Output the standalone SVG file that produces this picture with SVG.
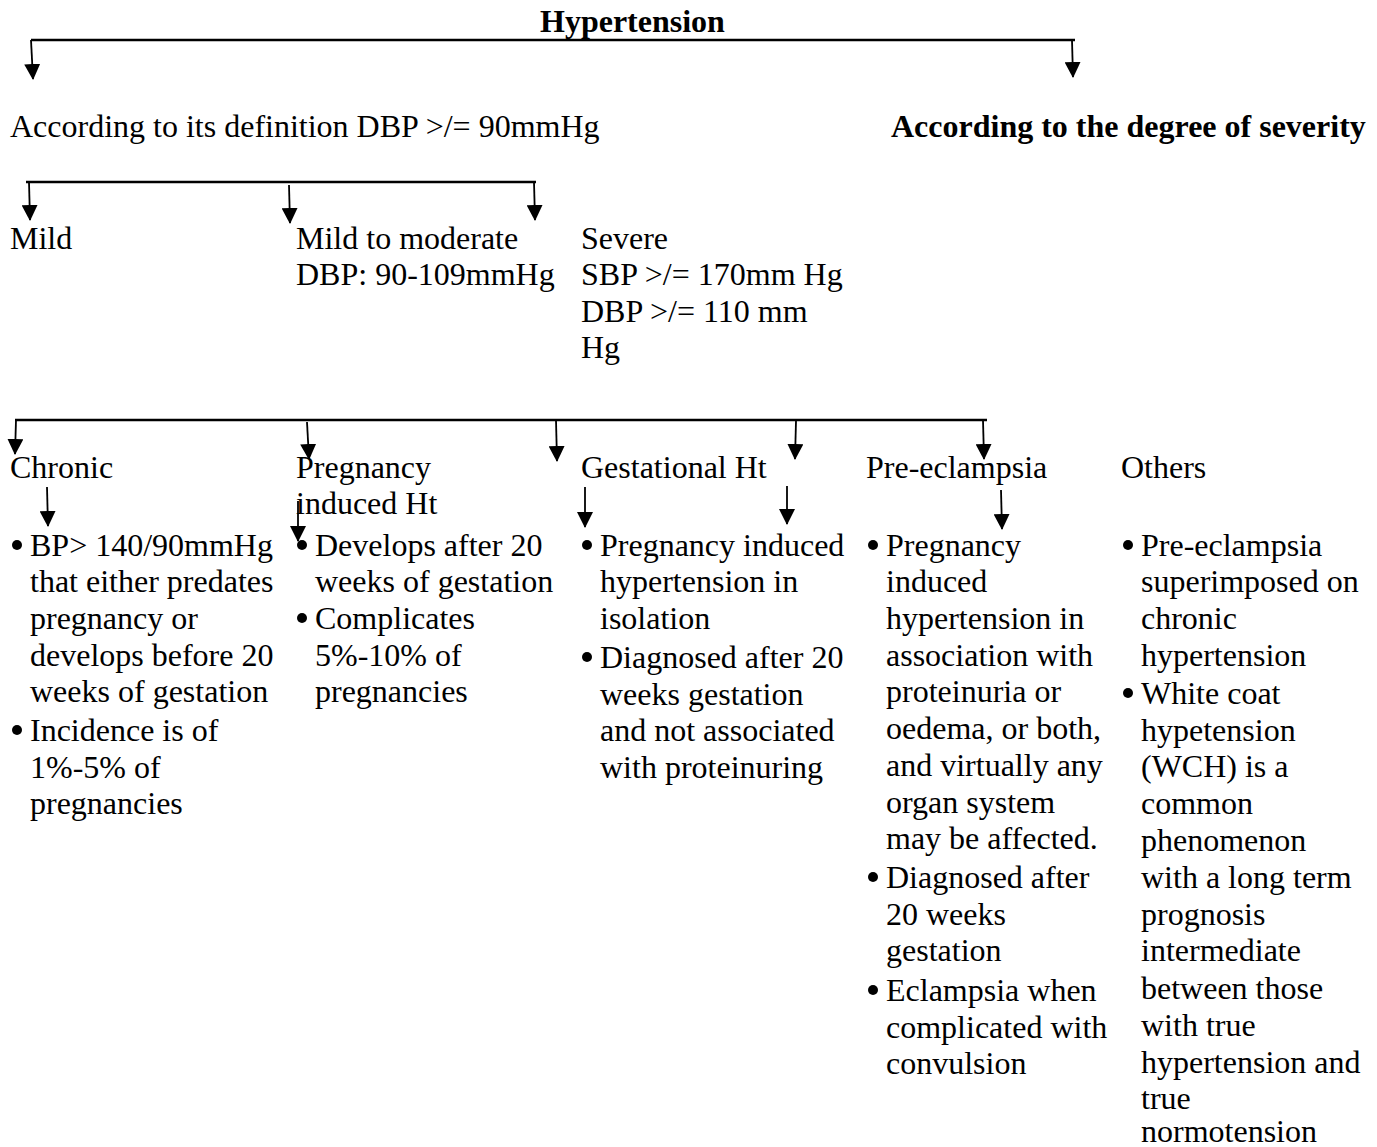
<svg xmlns="http://www.w3.org/2000/svg" width="1377" height="1147" viewBox="0 0 1377 1147">
<style>
text{font-family:"Liberation Serif","Times New Roman",serif;font-size:32px;fill:#000}
.b{font-weight:bold}
.bar{stroke:#000;stroke-width:2.5;fill:none}
.arr{stroke:#000;stroke-width:1.8;fill:none;marker-end:url(#ah)}
.dot{fill:#000}
</style>
<defs>
<marker id="ah" markerUnits="userSpaceOnUse" markerWidth="16" markerHeight="16" viewBox="0 0 16 16" refX="15" refY="8" orient="auto">
<path d="M0,0 L16,8 L0,16 Z" fill="#000"/>
</marker>
</defs>
<rect width="1377" height="1147" fill="#fff"/>

<g id="connectors">
<line class="bar" x1="31" y1="40" x2="1075" y2="40"/>
<line class="arr" x1="31" y1="40" x2="33" y2="79"/>
<line class="arr" x1="1072" y1="40" x2="1073" y2="77"/>
<line class="bar" x1="26" y1="182" x2="536" y2="182"/>
<line class="arr" x1="29" y1="182" x2="30" y2="220"/>
<line class="arr" x1="289" y1="185" x2="290" y2="223"/>
<line class="arr" x1="534" y1="182" x2="535" y2="220"/>
<line class="bar" x1="15" y1="420" x2="987" y2="420"/>
<line class="arr" x1="16" y1="420" x2="15" y2="454"/>
<line class="arr" x1="307" y1="422" x2="309" y2="459"/>
<line class="arr" x1="556" y1="420" x2="557" y2="461"/>
<line class="arr" x1="796" y1="421" x2="795" y2="459"/>
<line class="arr" x1="983" y1="420" x2="984" y2="459"/>
<line class="arr" x1="47" y1="487" x2="48" y2="526"/>
<line class="arr" x1="298" y1="501" x2="298" y2="541"/>
<line class="arr" x1="585" y1="487" x2="585" y2="527"/>
<line class="arr" x1="787" y1="486" x2="787" y2="524"/>
<line class="arr" x1="1001" y1="490" x2="1002" y2="529"/>
</g>

<g id="root"><text class="b" x="540" y="32">Hypertension</text></g>
<g id="definition"><text x="10" y="137">According to its definition DBP &gt;/= 90mmHg</text></g>
<g id="severity"><text class="b" x="891" y="137">According to the degree of severity</text></g>

<g id="mild"><text x="10" y="249">Mild</text></g>
<g id="mild-moderate"><text x="296" y="249">Mild to moderate</text><text x="296" y="285">DBP: 90-109mmHg</text></g>
<g id="severe"><text x="581" y="249">Severe</text><text x="581" y="285">SBP &gt;/= 170mm Hg</text><text x="581" y="322">DBP &gt;/= 110 mm</text><text x="581" y="358">Hg</text></g>

<g id="chronic">
<text x="10" y="478">Chronic</text>
<circle class="dot" cx="17" cy="545" r="5"/>
<text x="30" y="556">BP&gt; 140/90mmHg</text>
<text x="30" y="592">that either predates</text>
<text x="30" y="629">pregnancy or</text>
<text x="30" y="666">develops before 20</text>
<text x="30" y="702">weeks of gestation</text>
<circle class="dot" cx="17" cy="730" r="5"/>
<text x="30" y="741">Incidence is of</text>
<text x="30" y="778">1%-5% of</text>
<text x="30" y="814">pregnancies</text>
</g>

<g id="pih">
<text x="296" y="478">Pregnancy</text>
<text x="296" y="514">induced Ht</text>
<circle class="dot" cx="302" cy="545" r="5"/>
<text x="315" y="556">Develops after 20</text>
<text x="315" y="592">weeks of gestation</text>
<circle class="dot" cx="302" cy="618" r="5"/>
<text x="315" y="629">Complicates</text>
<text x="315" y="666">5%-10% of</text>
<text x="315" y="702">pregnancies</text>
</g>

<g id="gestational">
<text x="581" y="478">Gestational Ht</text>
<circle class="dot" cx="587" cy="545" r="5"/>
<text x="600" y="556">Pregnancy induced</text>
<text x="600" y="592">hypertension in</text>
<text x="600" y="629">isolation</text>
<circle class="dot" cx="587" cy="657" r="5"/>
<text x="600" y="668">Diagnosed after 20</text>
<text x="600" y="705">weeks gestation</text>
<text x="600" y="741">and not associated</text>
<text x="600" y="778">with proteinuring</text>
</g>

<g id="preeclampsia">
<text x="866" y="478">Pre-eclampsia</text>
<circle class="dot" cx="873" cy="545" r="5"/>
<text x="886" y="556">Pregnancy</text>
<text x="886" y="592">induced</text>
<text x="886" y="629">hypertension in</text>
<text x="886" y="666">association with</text>
<text x="886" y="702">proteinuria or</text>
<text x="886" y="739">oedema, or both,</text>
<text x="886" y="776">and virtually any</text>
<text x="886" y="813">organ system</text>
<text x="886" y="849">may be affected.</text>
<circle class="dot" cx="873" cy="877" r="5"/>
<text x="886" y="888">Diagnosed after</text>
<text x="886" y="925">20 weeks</text>
<text x="886" y="961">gestation</text>
<circle class="dot" cx="873" cy="990" r="5"/>
<text x="886" y="1001">Eclampsia when</text>
<text x="886" y="1038">complicated with</text>
<text x="886" y="1074">convulsion</text>
</g>

<g id="others">
<text x="1121" y="478">Others</text>
<circle class="dot" cx="1128" cy="545" r="5"/>
<text x="1141" y="556">Pre-eclampsia</text>
<text x="1141" y="592">superimposed on</text>
<text x="1141" y="629">chronic</text>
<text x="1141" y="666">hypertension</text>
<circle class="dot" cx="1128" cy="693" r="5"/>
<text x="1141" y="704">White coat</text>
<text x="1141" y="741">hypetension</text>
<text x="1141" y="777">(WCH) is a</text>
<text x="1141" y="814">common</text>
<text x="1141" y="851">phenomenon</text>
<text x="1141" y="888">with a long term</text>
<text x="1141" y="925">prognosis</text>
<text x="1141" y="961">intermediate</text>
<text x="1141" y="999">between those</text>
<text x="1141" y="1036">with true</text>
<text x="1141" y="1073">hypertension and</text>
<text x="1141" y="1109">true</text>
<text x="1141" y="1142">normotension</text>
</g>
</svg>
